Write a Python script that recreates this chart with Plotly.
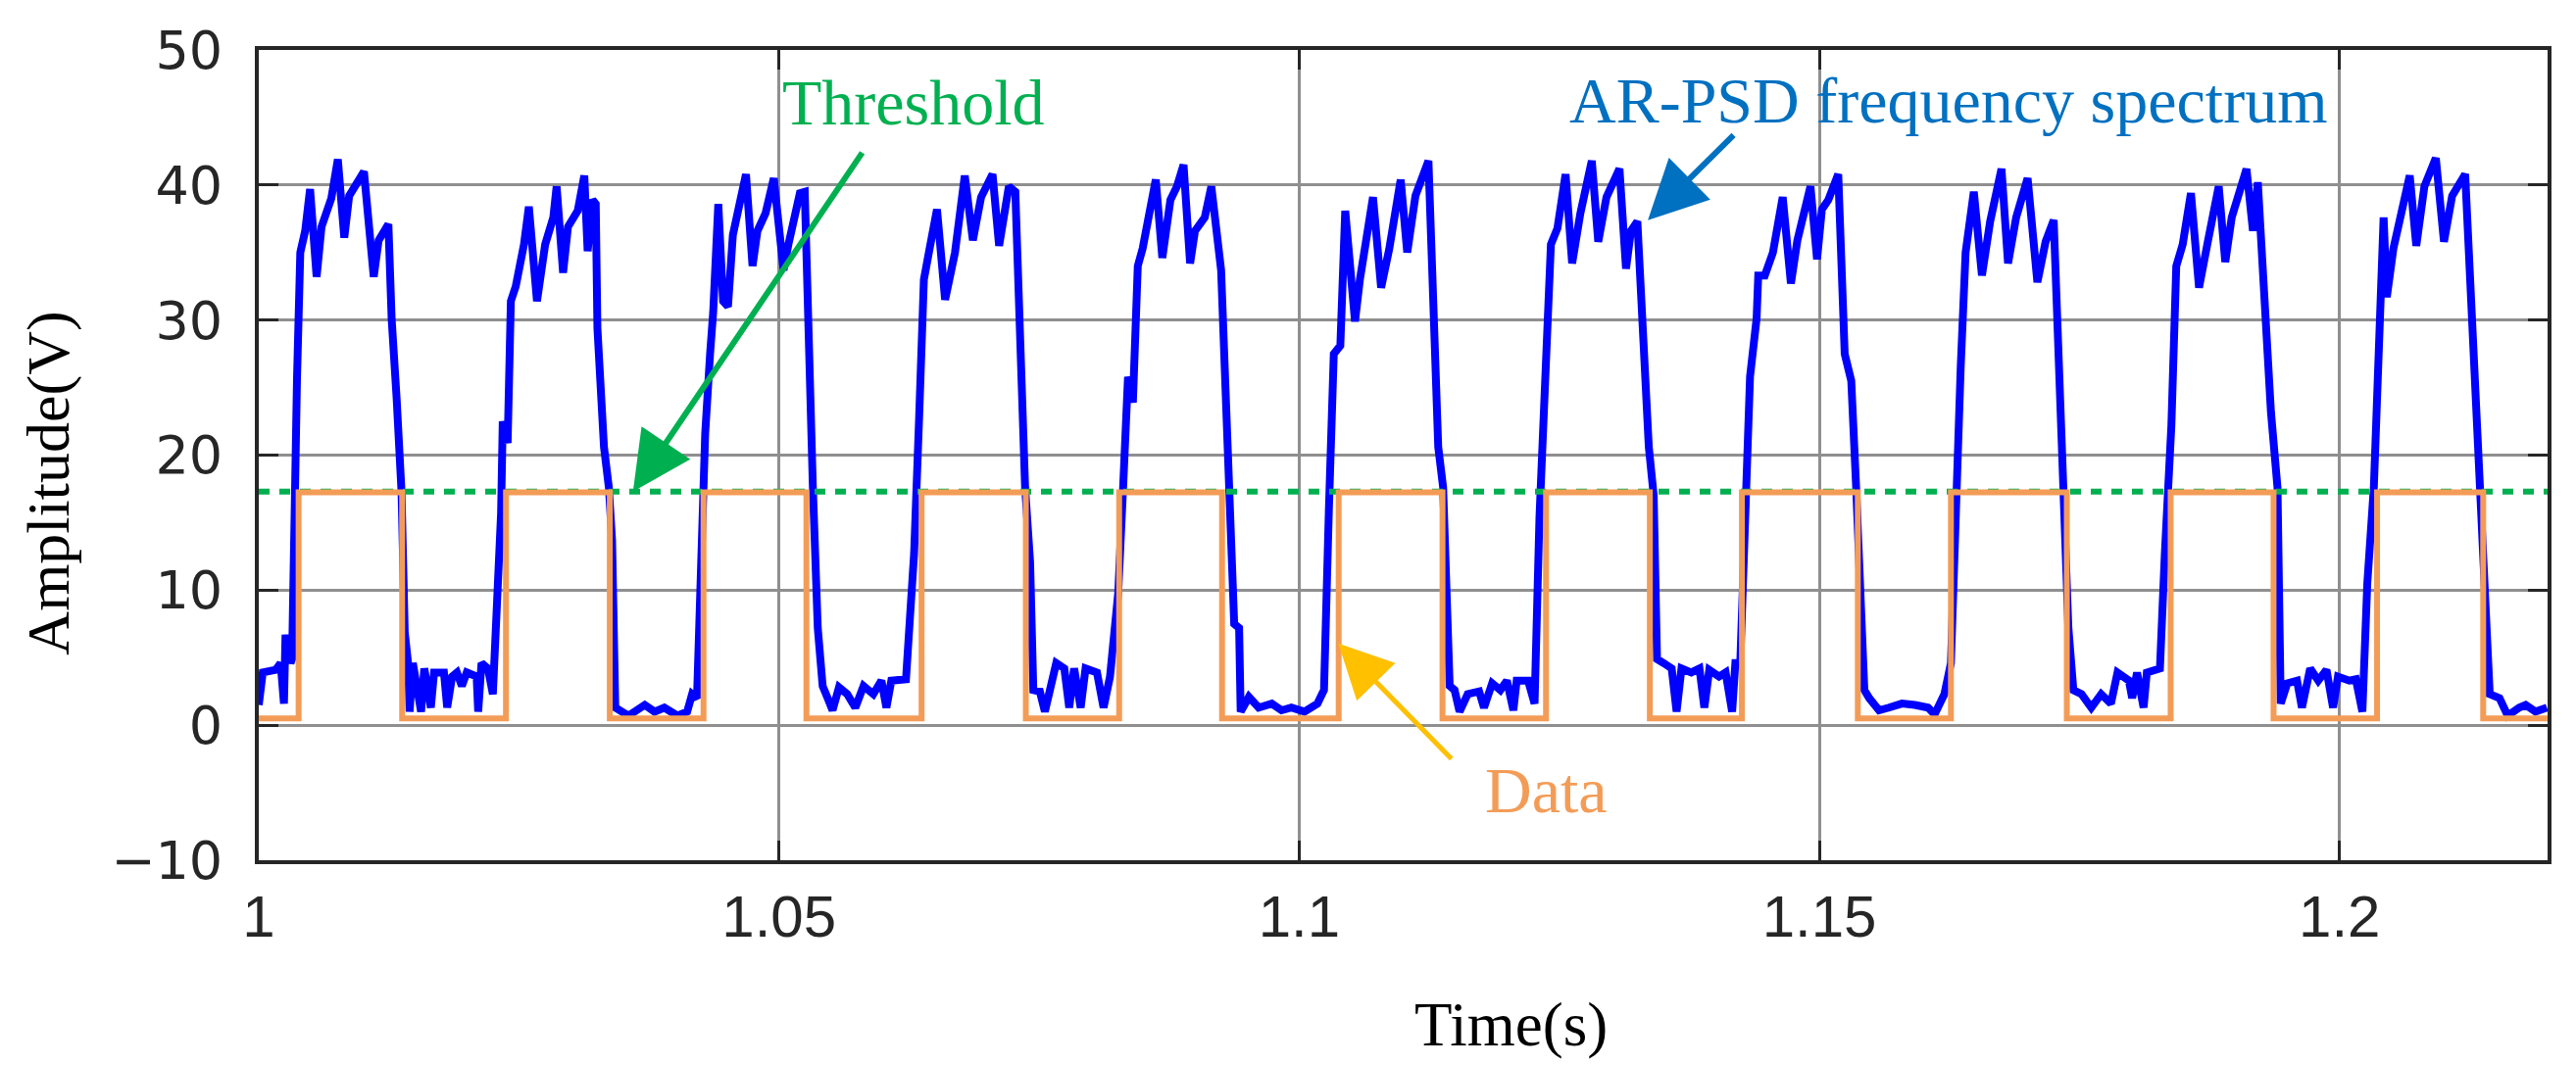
import plotly.graph_objects as go

# ---------------- data ----------------
x_tick_vals = [1.0, 1.05, 1.1, 1.15, 1.2]
x_tick_text = ["1", "1.05", "1.1", "1.15", "1.2"]
y_tick_vals = [-10, 0, 10, 20, 30, 40, 50]
y_tick_text = ["\u221210", "0", "10", "20", "30", "40", "50"]

threshold_value = 17.3
threshold_time = [1.0, 1.22]

data_time = [1.0, 1.00383, 1.01378, 1.02376, 1.03374, 1.04275, 1.05264, 1.06371,
             1.07373, 1.0827, 1.09259, 1.1038, 1.11378, 1.12373, 1.13371, 1.14256,
             1.1537, 1.16265, 1.17379, 1.18377, 1.19366, 1.20361, 1.21381, 1.22]
data_level = [0.5, 17.25, 0.5, 17.25, 0.5, 17.25, 0.5, 17.25,
              0.5, 17.25, 0.5, 17.25, 0.5, 17.25, 0.5, 17.25,
              0.5, 17.25, 0.5, 17.25, 0.5, 17.25, 0.5, 0.5]

spectrum_time = [
    1.00000, 1.00038, 1.00163, 1.00210, 1.00242, 1.00257, 1.00305, 1.00320, 1.00367, 1.00399,
    1.00446, 1.00493, 1.00556, 1.00603, 1.00697, 1.00760, 1.00822, 1.00869, 1.00948, 1.01011,
    1.01105, 1.01152, 1.01246, 1.01277, 1.01325, 1.01372, 1.01403, 1.01435, 1.01450, 1.01481,
    1.01560, 1.01591, 1.01654, 1.01685, 1.01780, 1.01811, 1.01858, 1.01905, 1.01952, 1.01999,
    1.02094, 1.02109, 1.02141, 1.02203, 1.02250, 1.02282, 1.02329, 1.02345, 1.02392, 1.02423,
    1.02470, 1.02549, 1.02596, 1.02674, 1.02753, 1.02831, 1.02863, 1.02925, 1.02972, 1.03066,
    1.03129, 1.03161, 1.03208, 1.03239, 1.03255, 1.03318, 1.03365, 1.03396, 1.03427, 1.03490,
    1.03553, 1.03710, 1.03804, 1.03898, 1.04024, 1.04118, 1.04165, 1.04212, 1.04244, 1.04291,
    1.04338, 1.04368, 1.04417, 1.04463, 1.04510, 1.04557, 1.04683, 1.04746, 1.04793, 1.04871,
    1.04950, 1.05044, 1.05091, 1.05201, 1.05248, 1.05295, 1.05326, 1.05373, 1.05420, 1.05468,
    1.05515, 1.05577, 1.05656, 1.05734, 1.05813, 1.05907, 1.05985, 1.06033, 1.06080, 1.06221,
    1.06252, 1.06299, 1.06346, 1.06393, 1.06441, 1.06519, 1.06597, 1.06692, 1.06786, 1.06864,
    1.06943, 1.07053, 1.07116, 1.07210, 1.07272, 1.07304, 1.07366, 1.07414, 1.07445, 1.07508,
    1.07556, 1.07665, 1.07743, 1.07790, 1.07837, 1.07900, 1.07947, 1.08057, 1.08120, 1.08182,
    1.08261, 1.08308, 1.08355, 1.08402, 1.08449, 1.08496, 1.08622, 1.08685, 1.08763,
    1.08826, 1.08889, 1.08952, 1.08999, 1.09093, 1.09156, 1.09250, 1.09297, 1.09329, 1.09376,
    1.09423, 1.09438, 1.09517, 1.09611, 1.09737, 1.09831, 1.09925, 1.10051, 1.10176, 1.10239,
    1.10286, 1.10333, 1.10396, 1.10443, 1.10537, 1.10584, 1.10710, 1.10788, 1.10867, 1.10976,
    1.11039, 1.11118, 1.11243, 1.11290, 1.11337, 1.11384, 1.11416, 1.11447, 1.11494, 1.11542,
    1.11620, 1.11730, 1.11777, 1.11855, 1.11934, 1.11997, 1.12059, 1.12091, 1.12201, 1.12263,
    1.12310, 1.12358, 1.12420, 1.12483, 1.12561, 1.12624, 1.12703, 1.12813, 1.12875, 1.12954,
    1.13079, 1.13142, 1.13189,
    1.13251, 1.13314, 1.13361, 1.13408, 1.13440, 1.13503, 1.13581, 1.13628, 1.13675, 1.13769,
    1.13848, 1.13895, 1.13942, 1.14036, 1.14099, 1.14162, 1.14193, 1.14240, 1.14287, 1.14334,
    1.14397, 1.14413, 1.14476, 1.14554, 1.14648, 1.14727, 1.14789, 1.14915, 1.14978, 1.15025,
    1.15087, 1.15182, 1.15244, 1.15307, 1.15354, 1.15401, 1.15433, 1.15480, 1.15574, 1.15668,
    1.15794, 1.15919, 1.16045, 1.16108, 1.16202, 1.16265, 1.16312, 1.16359, 1.16406, 1.16485,
    1.16563, 1.16642, 1.16751, 1.16814, 1.16892, 1.17002, 1.17096, 1.17175, 1.17253, 1.17284,
    1.17347, 1.17394, 1.17442, 1.17520, 1.17614,
    1.17709, 1.17803, 1.17866, 1.17976, 1.18007, 1.18054, 1.18117, 1.18148, 1.18274, 1.18321,
    1.18384, 1.18431, 1.18493, 1.18572, 1.18650, 1.18729, 1.18839, 1.18902, 1.18964, 1.19106,
    1.19168, 1.19215, 1.19278, 1.19341, 1.19404, 1.19435, 1.19498, 1.19592, 1.19639, 1.19718,
    1.19796, 1.19875, 1.19938, 1.19985, 1.20094, 1.20157, 1.20220, 1.20267, 1.20330, 1.20377,
    1.20424, 1.20455, 1.20518, 1.20675, 1.20738, 1.20816, 1.20926, 1.21004, 1.21083, 1.21208,
    1.21255, 1.21303, 1.21350, 1.21413, 1.21444, 1.21538, 1.21617, 1.21727, 1.21789, 1.21884,
    1.21994,
]
spectrum_amp = [
    1.5, 3.9, 4.1, 4.6, 1.6, 6.7, 4.6, 4.9, 25.5, 35.0,
    36.6, 39.7, 33.2, 36.9, 39.0, 41.9, 36.1, 39.2, 40.2, 41.0,
    33.2, 35.9, 37.1, 30.1, 24.2, 17.3, 6.9, 4.6, 1.0, 4.6,
    1.0, 4.2, 1.3, 3.9, 3.9, 1.3, 3.6, 3.9, 2.9, 3.9,
    3.6, 1.0, 4.6, 4.2, 2.3, 8.5, 15.7, 22.5, 20.9, 31.4,
    32.5, 35.6, 38.4, 31.4, 35.6, 37.6, 39.9, 33.5, 36.9, 38.1,
    40.7, 35.1, 38.9, 38.6, 29.4, 20.6, 17.6, 13.7, 1.3, 1.0,
    0.7, 1.5, 1.0, 1.3, 0.7, 1.0, 2.3, 2.0, 9.5, 21.6,
    27.5, 30.6, 38.6, 31.4, 31.0, 36.3, 40.8, 34.0, 36.6, 37.9,
    40.5, 33.7, 35.6, 39.4, 39.5, 24.2, 17.6, 7.2, 2.9, 2.0,
    1.1, 2.8, 2.3, 1.3, 2.9, 2.3, 3.3, 1.3, 3.3, 3.4,
    7.8, 12.7, 22.5, 33.0, 35.0, 38.2, 31.5, 35.0, 40.7, 35.9,
    39.1, 40.8, 35.5, 39.9, 39.5, 30.7, 17.6, 12.1, 2.6, 2.5,
    1.0, 4.6, 4.2, 1.3, 4.2, 1.3, 4.2, 3.9, 1.3, 3.6,
    9.8, 17.6, 25.8, 23.9, 34.0, 35.3, 40.4, 34.6, 38.9,
    39.9, 41.5, 34.2, 36.6, 37.6, 39.9, 33.7, 24.2, 15.0, 7.5,
    7.2, 1.0, 2.1, 1.3, 1.6, 1.1, 1.3, 1.0, 1.6, 2.6,
    16.0, 27.5, 28.1, 38.1, 29.9, 33.0, 39.1, 32.4, 35.3, 40.4,
    35.0, 39.2, 41.8, 30.7, 20.6, 17.6, 11.8, 2.9, 2.6, 1.0,
    2.3, 2.5, 1.3, 3.1, 2.6, 3.3, 1.1, 3.3, 3.3, 1.6,
    15.4, 25.2, 35.6, 36.8, 40.8, 34.2, 37.9, 41.8, 35.8, 39.1,
    41.2, 33.8, 36.6,
    37.3, 28.1, 20.6, 17.0, 4.9, 4.6, 4.2, 1.0, 4.2, 3.9,
    4.2, 1.3, 4.1, 3.6, 3.9, 1.0, 4.6, 4.6, 16.0, 25.8,
    30.1, 33.3, 33.3, 35.0, 39.1, 32.7, 35.9, 39.9, 34.5, 38.2,
    38.9, 40.8, 27.5, 25.5, 17.6, 6.9, 2.6, 2.0, 1.1, 1.3,
    1.6, 1.5, 1.3, 0.8, 2.3, 4.6, 17.0, 26.5, 35.0, 39.5,
    33.3, 37.3, 41.2, 34.2, 37.6, 40.5, 32.8, 35.8, 37.4, 30.7,
    17.3, 7.2, 2.6, 2.3, 1.3,
    2.3, 1.6, 3.9, 3.3, 2.0, 3.9, 1.3, 3.9, 4.2, 12.7,
    22.2, 34.0, 35.6, 39.4, 32.4, 35.6, 39.9, 34.3, 37.6, 41.2,
    36.6, 40.2, 32.0, 23.2, 17.6, 1.6, 3.1, 3.3, 1.3, 4.2,
    3.3, 4.1, 1.3, 3.6, 3.3, 3.4, 1.0, 10.5, 17.6, 29.1,
    37.6, 31.7, 35.3, 40.7, 35.5, 39.9, 42.0, 35.8, 39.2, 40.8,
    33.3, 26.1, 17.6, 9.2, 2.3, 2.0, 0.7, 1.3, 1.5, 1.0,
    1.3,
]

# ---------------- figure ----------------
fig = go.Figure()

fig.add_trace(go.Scatter(
    x=spectrum_time, y=spectrum_amp, mode="lines",
    line=dict(color="#0000FF", width=8), showlegend=False, hoverinfo="skip"))

fig.add_trace(go.Scatter(
    x=threshold_time, y=[threshold_value, threshold_value], mode="lines",
    line=dict(color="#00B050", width=6, dash="11px,10px"), showlegend=False, hoverinfo="skip"))

fig.add_trace(go.Scatter(
    x=data_time, y=data_level, mode="lines", line_shape="hv",
    line=dict(color="#F39C57", width=6), showlegend=False, hoverinfo="skip"))

serif = "Liberation Serif, Times New Roman, serif"

annotations = [
    dict(x=1.0629, y=46.1, xref="x", yref="y", text="Threshold", showarrow=False,
         font=dict(family=serif, size=66, color="#00B050"), xanchor="center", yanchor="middle"),
    dict(x=1.1624, y=46.3, xref="x", yref="y", text="AR-PSD frequency spectrum", showarrow=False,
         font=dict(family=serif, size=66, color="#0070C0"), xanchor="center", yanchor="middle"),
    dict(x=1.1238, y=-4.8, xref="x", yref="y", text="Data", showarrow=False,
         font=dict(family=serif, size=66, color="#F39C57"), xanchor="center", yanchor="middle"),
    # arrows
    dict(x=1.03597, y=17.3, ax=1.0581, ay=42.5, xref="x", yref="y", axref="x", ayref="y",
         text="", showarrow=True, arrowhead=2, arrowsize=2.0, arrowwidth=6, arrowcolor="#00B050",
         standoff=0, startstandoff=0),
    dict(x=1.13352, y=37.4, ax=1.1419, ay=43.8, xref="x", yref="y", axref="x", ayref="y",
         text="", showarrow=True, arrowhead=2, arrowsize=2.0, arrowwidth=6, arrowcolor="#0070C0",
         standoff=0, startstandoff=0),
    dict(x=1.10377, y=6.05, ax=1.11478, ay=-2.6, xref="x", yref="y", axref="x", ayref="y",
         text="", showarrow=True, arrowhead=2, arrowsize=2.2, arrowwidth=5, arrowcolor="#FFC000",
         standoff=0, startstandoff=0),
    # axis titles
    dict(x=0.547, y=-0.203, xref="paper", yref="paper", text="Time(s)", showarrow=False,
         font=dict(family=serif, size=63, color="#000000"), xanchor="center", yanchor="middle"),
    dict(x=-0.092, y=0.465, xref="paper", yref="paper", text="Amplitude(V)", showarrow=False,
         textangle=-90, font=dict(family=serif, size=62, color="#000000"),
         xanchor="center", yanchor="middle"),
]

fig.update_layout(
    width=2628, height=1087,
    margin=dict(l=256, r=37, t=43, b=217),
    paper_bgcolor="white", plot_bgcolor="white",
    annotations=annotations,
    xaxis=dict(
        range=[1.0, 1.22], tickvals=x_tick_vals, ticktext=x_tick_text,
        showgrid=True, gridcolor="#8f8f8f", gridwidth=3, zeroline=False,
        showline=True, linecolor="#262626", linewidth=4, mirror="ticks",
        ticks="inside", ticklen=20, tickwidth=3, tickcolor="#262626",
        tickfont=dict(family="Liberation Sans, Arial, sans-serif", size=60, color="#262626"),
        ticklabelstandoff=2,
    ),
    yaxis=dict(
        range=[-10, 50], tickvals=y_tick_vals, ticktext=y_tick_text,
        showgrid=True, gridcolor="#8f8f8f", gridwidth=3, zeroline=False,
        showline=True, linecolor="#262626", linewidth=4, mirror="ticks",
        ticks="inside", ticklen=20, tickwidth=3, tickcolor="#262626",
        tickfont=dict(family="DejaVu Sans, sans-serif", size=54, color="#262626"),
        ticklabelstandoff=22,
    ),
)

fig.write_html("out.html")
